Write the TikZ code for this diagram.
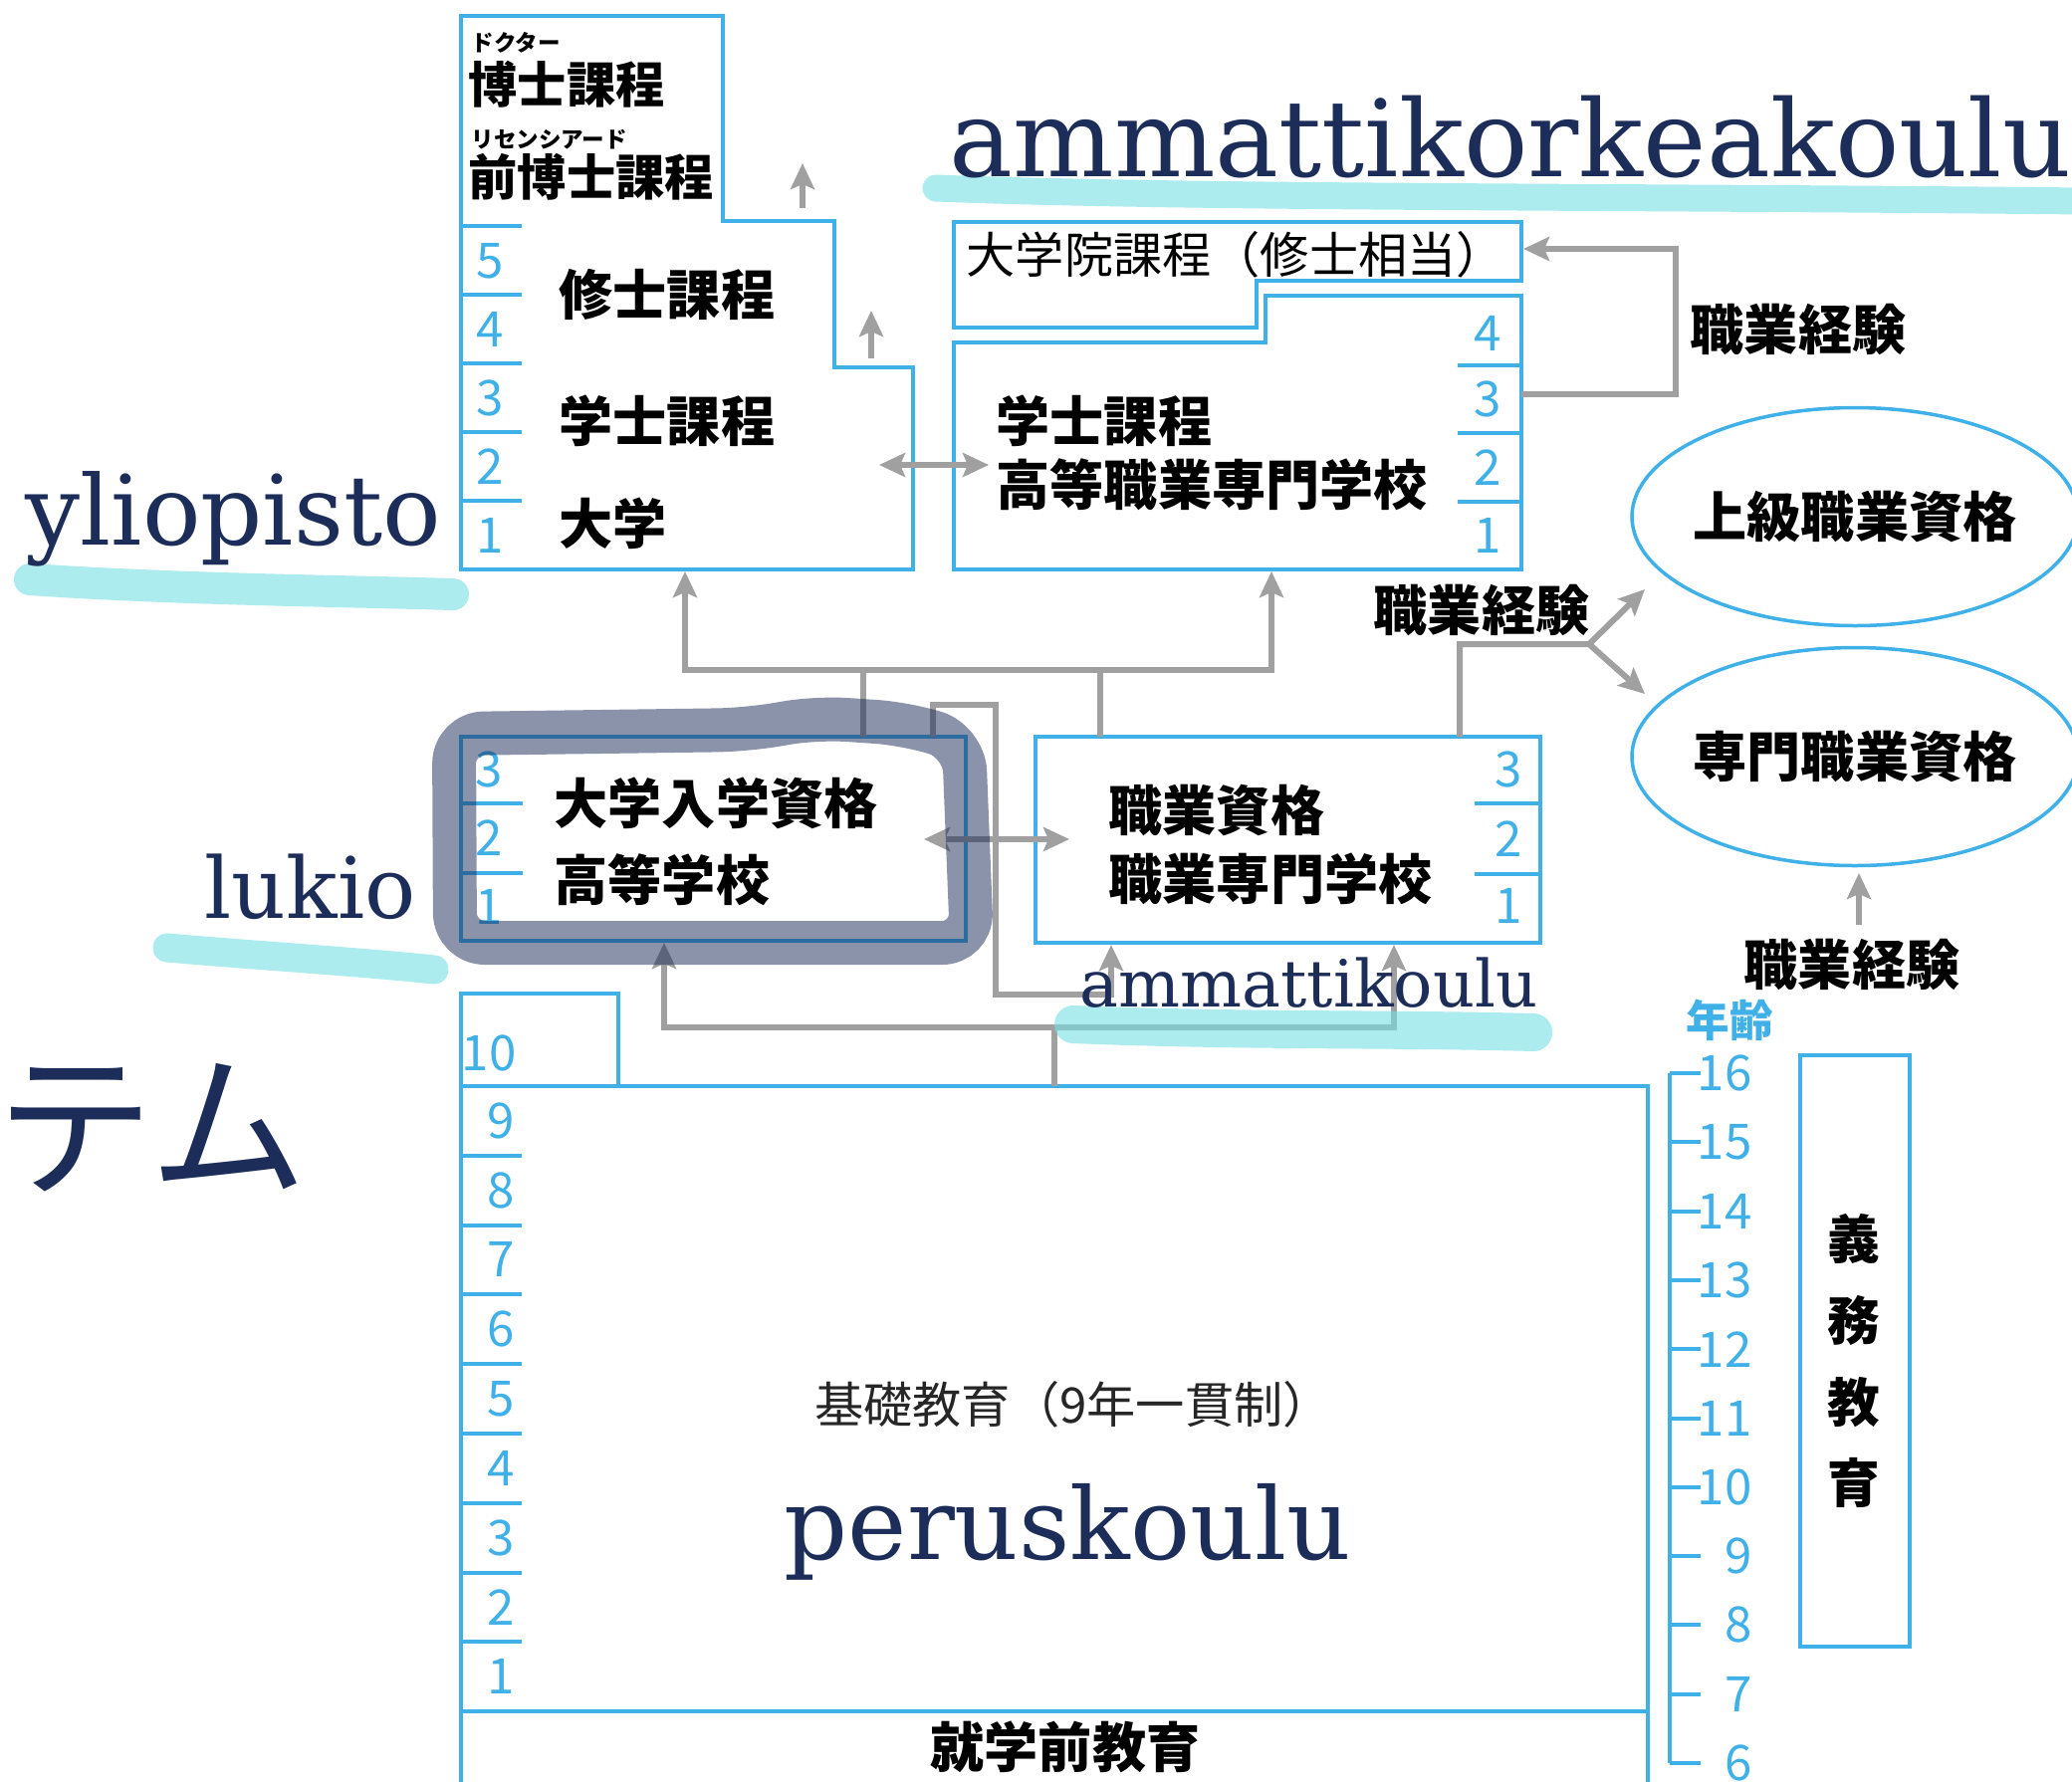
\documentclass[tikz,border=0pt]{standalone}
\usepackage{fontspec}
\setmainfont{DejaVu Serif}
\newfontfamily\jpfont{Noto Sans CJK JP}
\usetikzlibrary{shapes.geometric}
\usetikzlibrary{positioning}
\usetikzlibrary{arrows.meta}
\usepackage{xcolor}
\definecolor{schoolblue}{RGB}{64,176,232}
\definecolor{flowgray}{RGB}{160,160,160}
\definecolor{inknavy}{RGB}{28,45,90}
\definecolor{markercyan}{RGB}{117,223,227}

\begin{document}
\begin{tikzpicture}[
    blueline/.style={draw=schoolblue, line width=0.04cm},
    flow/.style={draw=flowgray, line width=0.06cm},
    flowto/.style={flow, -{Stealth[length=0.26cm, width=0.24cm, inset=0.05cm]}},
    flowboth/.style={flow, {Stealth[length=0.26cm, width=0.24cm, inset=0.05cm]}-{Stealth[length=0.26cm, width=0.24cm, inset=0.05cm]}},
    boxtext/.style={inner sep=0, align=left, font=\jpfont\bfseries\fontsize{15.4pt}{18.2pt}\selectfont},
    doctext/.style={inner sep=0, anchor=west, font=\jpfont\bfseries\fontsize{14pt}{16pt}\selectfont},
    thintext/.style={inner sep=0, font=\jpfont\fontsize{14pt}{17pt}\selectfont},
    rubytext/.style={inner sep=0, anchor=west, font=\jpfont\bfseries\fontsize{6.4pt}{7pt}\selectfont},
    yearnum/.style={inner sep=0, text=schoolblue, font=\jpfont\fontsize{14pt}{16pt}\selectfont},
    qualellipse/.style={ellipse, draw=schoolblue, line width=0.035cm, minimum width=4.48cm, minimum height=2.19cm, inner sep=0},
    highlight/.style={draw=markercyan, line cap=round, opacity=0.6},
    inkloop/.style={draw=inknavy, line width=0.44cm, opacity=0.515, rounded corners=0.3cm},
    fintext/.style={inner sep=0, anchor=base west, text=inknavy}
]
\fill[white] (0,0) rectangle (20.81,-17.89);
\useasboundingbox (0,0) rectangle (20.81,-17.89);

% yliopisto
\draw[blueline] (4.63,-0.16) -- (7.26,-0.16) -- (7.26,-2.22) -- (8.38,-2.22) -- (8.38,-3.69) -- (9.17,-3.69) -- (9.17,-5.72) -- (4.63,-5.72) -- cycle;
\foreach \y in {2.27,2.96,3.65,4.34,5.03}
    \draw[blueline] (4.63,-\y) -- (5.24,-\y);
\foreach \n/\y in {1/5.38,2/4.69,3/4.00,4/3.31,5/2.62}
    \node[yearnum] (uni\n) at (4.92,-\y) {\n};
\node[rubytext] (doctorruby) at (4.73,-0.43) {ドクター};
\node[doctext] (doctor) at (4.70,-0.85) {博士課程};
\node[rubytext] (licruby) at (4.73,-1.40) {リセンシアード};
\node[doctext] (licentiate) at (4.70,-1.78) {前博士課程};
\node[boxtext, anchor=west] (master) at (5.61,-2.96) {修士課程};
\node[boxtext, anchor=west] (bachelor) at (5.61,-4.23) {学士課程};
\node[boxtext, anchor=west] (university) at (5.61,-5.26) {大学};

% ammattikorkeakoulu
\draw[blueline] (9.58,-2.23) -- (15.28,-2.23) -- (15.28,-2.82) -- (12.62,-2.82) -- (12.62,-3.29) -- (9.58,-3.29) -- cycle;
\draw[blueline] (9.58,-3.44) -- (12.71,-3.44) -- (12.71,-2.97) -- (15.28,-2.97) -- (15.28,-5.72) -- (9.58,-5.72) -- cycle;
\foreach \y in {3.665,4.35,5.035}
    \draw[blueline] (14.64,-\y) -- (15.28,-\y);
\foreach \n/\y in {1/5.38,2/4.70,3/4.01,4/3.35}
    \node[yearnum] (amk\n) at (14.94,-\y) {\n};
\node[thintext, anchor=west] (gradtext) at (9.70,-2.56) {大学院課程（修士相当）};
\node[boxtext, anchor=west] (amktext) at (10.00,-4.545) {学士課程\\高等職業専門学校};

% lukio
\draw[blueline] (4.63,-7.40) rectangle (9.70,-9.45);
\foreach \y in {8.07,8.77}
    \draw[blueline] (4.63,-\y) -- (5.25,-\y);
\foreach \n/\y in {1/9.11,2/8.42,3/7.73}
    \node[yearnum] (luk\n) at (4.91,-\y) {\n};
\node[boxtext, anchor=west] (lukiotext) at (5.56,-8.455) {大学入学資格\\[0.13cm]高等学校};

% ammattikoulu
\draw[blueline] (10.40,-7.40) rectangle (15.47,-9.47);
\foreach \y in {8.07,8.78}
    \draw[blueline] (14.81,-\y) -- (15.47,-\y);
\foreach \n/\y in {1/9.10,2/8.43,3/7.73}
    \node[yearnum] (voc\n) at (15.15,-\y) {\n};
\node[boxtext, anchor=west] (voctext) at (11.13,-8.485) {職業資格\\[0.05cm]職業専門学校};

% peruskoulu
\draw[blueline] (4.63,-9.98) rectangle (6.21,-10.91);
\draw[blueline] (4.63,-17.95) -- (4.63,-10.91) -- (16.55,-10.91) -- (16.55,-17.95);
\draw[blueline] (4.63,-17.19) -- (16.55,-17.19);
\foreach \k in {1,...,8}
    \draw[blueline] (4.63,{-10.91-0.698*\k}) -- (5.24,{-10.91-0.698*\k});
\foreach \n in {1,...,9}
    \node[yearnum] (bas\n) at (5.03,{-17.19+0.698*\n-0.349}) {\n};
\node[yearnum] (bas10) at (4.91,-10.58) {10};
\node[thintext, text=black!85] (basictext) at (10.78,-14.11) {基礎教育（9年一貫制）};
\node[boxtext] (pretext) at (10.70,-17.55) {就学前教育};

% age scale
\draw[blueline] (16.77,-10.78) -- (16.77,-17.71);
\foreach \a in {6,...,16} {
    \draw[blueline] (16.77,{-10.78-0.693*(16-\a)}) -- (17.08,{-10.78-0.693*(16-\a)});
    \node[yearnum, anchor=east] (age\a) at (17.60,{-10.78-0.693*(16-\a)}) {\a};
}
\node[yearnum, font=\jpfont\bfseries\fontsize{12.4pt}{14pt}\selectfont] (agehead) at (17.37,-10.25) {年齢};

% compulsory education
\draw[blueline] (18.08,-10.60) rectangle (19.18,-16.54);
\node[boxtext, align=center, font=\jpfont\bfseries\fontsize{15pt}{23.3pt}\selectfont] (compulsory) at (18.62,-13.67) {義\\務\\教\\育};

% qualifications
\node[qualellipse] (advqual) at (18.63,-5.19) {};
\node[boxtext] (advqualtext) at (advqual.center) {上級職業資格};
\node[qualellipse] (specqual) at (18.63,-7.60) {};
\node[boxtext] (specqualtext) at (specqual.center) {専門職業資格};
\node[boxtext] (workexp1) at (18.06,-3.31) {職業経験};
\node[boxtext] (workexp2) at (14.88,-6.13) {職業経験};
\node[boxtext] (workexp3) at (18.60,-9.69) {職業経験};

% connectors
\coordinate (lic1) at (8.06,-2.09);
\coordinate (lic2) at (8.06,-1.64);
\coordinate (mas1) at (8.75,-3.60);
\coordinate (mas2) at (8.75,-3.12);
\draw[flowto] (lic1) -- (lic2);
\draw[flowto] (mas1) -- (mas2);

\coordinate (uniR) at (8.83,-4.67);
\coordinate (amkL) at (9.93,-4.67);
\draw[flowboth] (uniR) -- (amkL);
\coordinate (lukR) at (9.28,-8.43);
\coordinate (vocL) at (10.74,-8.43);
\draw[flowboth] (lukR) -- (vocL);

\coordinate (uniB) at (6.88,-5.74);
\coordinate (amkB) at (12.77,-5.74);
\coordinate (upL) at (6.88,-6.73);
\coordinate (upR) at (12.77,-6.73);
\coordinate (lukT1) at (8.67,-7.40);
\coordinate (vocT1) at (11.05,-7.40);
\draw[flowboth] (uniB) -- (upL) -- (upR) -- (amkB);
\draw[flow] (lukT1) -- (lukT1 |- upL);
\draw[flow] (vocT1) -- (vocT1 |- upL);

\coordinate (lukT2) at (9.37,-7.40);
\coordinate (bendA) at (10.00,-7.08);
\coordinate (bendB) at (10.00,-9.99);
\coordinate (vocB1) at (11.16,-9.49);
\draw[flowto] (lukT2) |- (bendA) -- (bendB) -| (vocB1);

\coordinate (lukB) at (6.67,-9.47);
\coordinate (vocB2) at (14.00,-9.49);
\coordinate (lowL) at (6.67,-10.32);
\coordinate (lowR) at (14.00,-10.32);
\coordinate (basT) at (10.59,-10.91);
\draw[flowboth] (lukB) -- (lowL) -- (lowR) -- (vocB2);
\draw[flow] (basT) -- (basT |- lowL);

\coordinate (amkR) at (15.28,-3.96);
\coordinate (bracket) at (16.83,-2.50);
\coordinate (gradR) at (15.30,-2.50);
\draw[flowto] (amkR) -| (bracket) -- (gradR);

\coordinate (vocT2) at (14.66,-7.40);
\coordinate (branch) at (15.96,-6.47);
\coordinate (advtip) at (16.52,-5.92);
\coordinate (spectip) at (16.52,-6.97);
\draw[flowto] (vocT2) |- (branch) -- (advtip);
\draw[flowto] (branch) -- (spectip);

\coordinate (expfoot) at (18.67,-9.29);
\coordinate (specfoot) at (18.67,-8.77);
\draw[flowto] (expfoot) -- (specfoot);

% handwritten notes
\draw[highlight, line width=0.27cm] (9.40,-1.89) .. controls (12.0,-1.99) and (16.0,-1.97) .. (20.95,-2.02);
\draw[highlight, line width=0.32cm] (0.30,-5.82) .. controls (1.8,-5.92) and (3.2,-5.93) .. (4.55,-5.97);
\draw[highlight, line width=0.29cm] (1.68,-9.52) .. controls (2.6,-9.60) and (3.6,-9.66) .. (4.36,-9.74);
\draw[highlight, line width=0.38cm] (10.78,-10.29) .. controls (12.5,-10.36) and (14.0,-10.33) .. (15.40,-10.37);
\draw[inkloop] (4.57,-9.47) -- (4.56,-7.37) -- (7.50,-7.33) -- (8.20,-7.21) -- (9.10,-7.27) -- (9.68,-7.45) -- (9.76,-9.47) -- cycle;

\node[fintext, font=\fontsize{30.5pt}{32pt}\selectfont] (amklabel) at (9.53,-1.77) {ammattikorkeakoulu};
\node[fintext, font=\fontsize{27.7pt}{30pt}\selectfont] (unilabel) at (0.25,-5.47) {yliopisto};
\node[fintext, font=\fontsize{24.2pt}{26pt}\selectfont] (lukiolabel) at (2.05,-9.22) {lukio};
\node[fintext, font=\fontsize{28.5pt}{30pt}\selectfont] (baslabel) at (7.87,-15.66) {peruskoulu};
\node[fintext, font=\fontsize{18.6pt}{20pt}\selectfont] (voclabel) at (10.84,-10.11) {ammattikoulu};
\node[inner sep=0, anchor=west, text=inknavy, font=\jpfont\fontsize{45pt}{48pt}\selectfont] (systemtail) at (-0.04,-11.33) {テム};
\end{tikzpicture}
\end{document}
